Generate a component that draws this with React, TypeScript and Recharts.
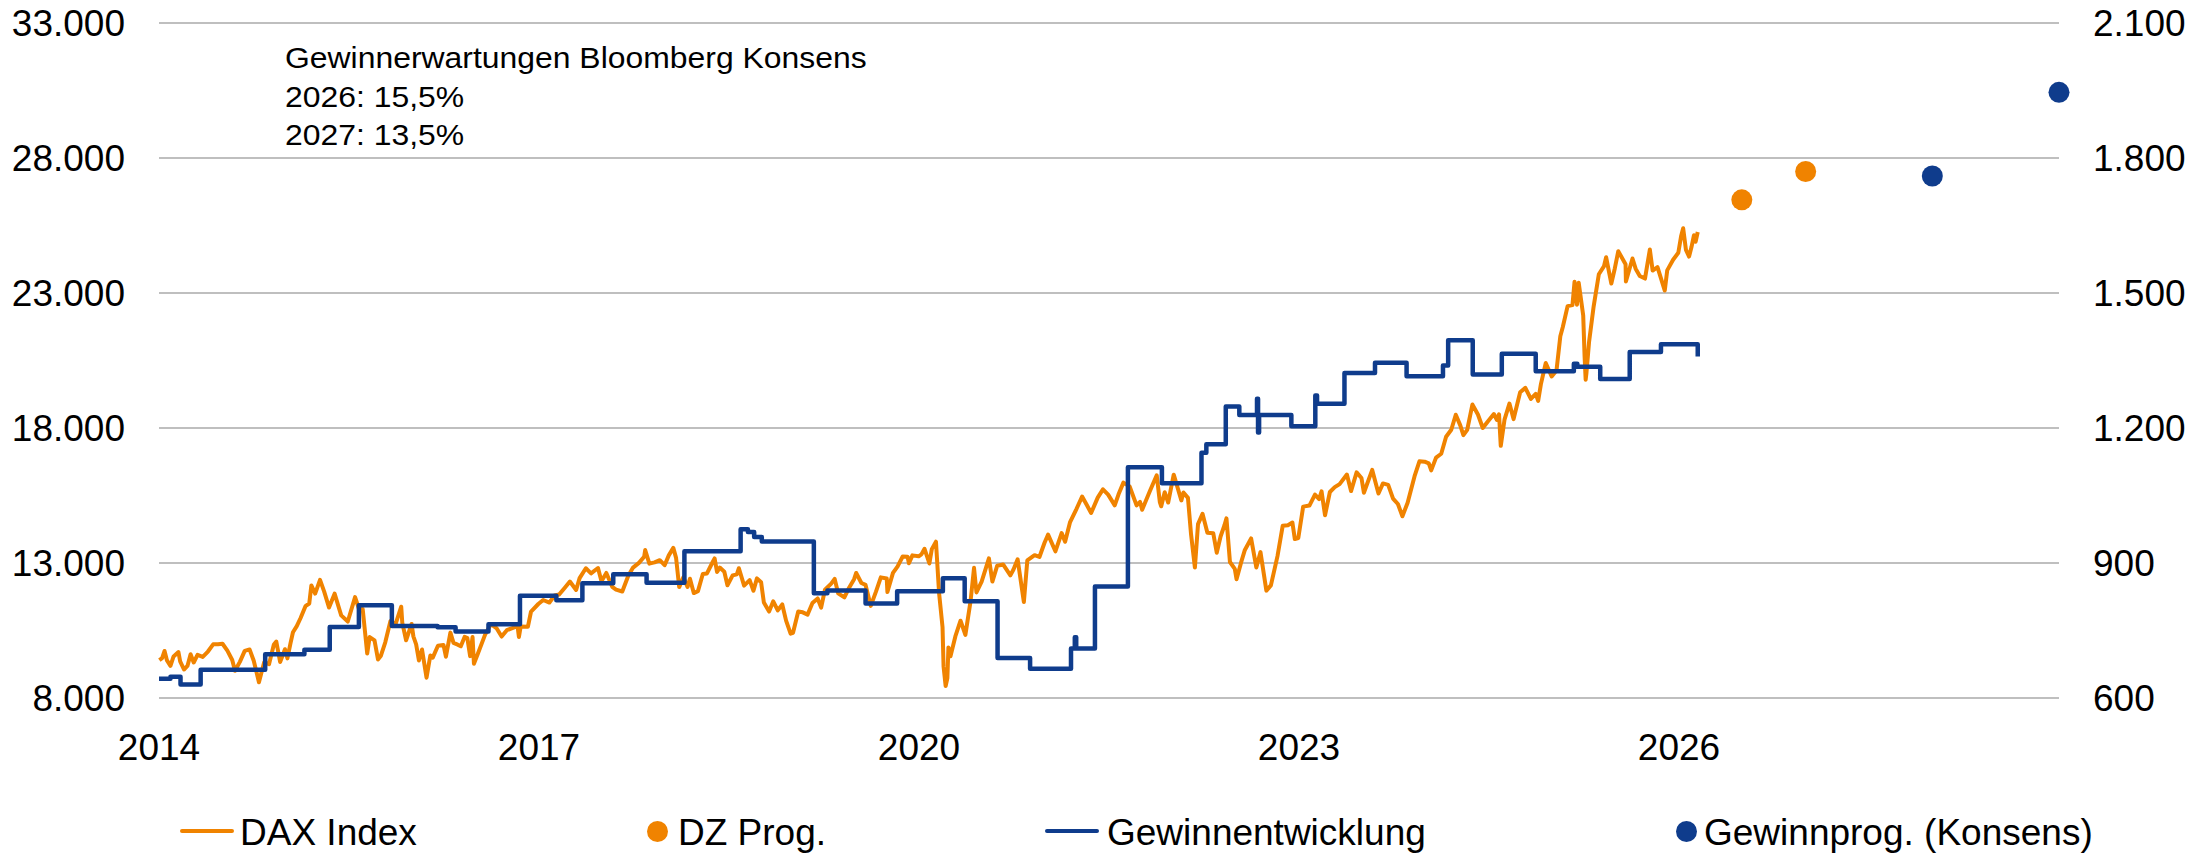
import React from 'react';
import { ComposedChart, Line, Scatter, XAxis, YAxis, CartesianGrid, Legend } from 'recharts';

const ORANGE = '#F08300';
const BLUE = '#0F3C8C';

// DAX Index, ausgewählte Schlusskurse je Jahr: [MM-DD, Punkte]
const dax2014: [string, number][] = [
  ['01-02', 9400], ['01-10', 9473], ['01-17', 9742], ['01-24', 9392], ['02-03', 9190], ['02-12', 9540],
  ['02-26', 9700], ['03-03', 9358], ['03-14', 9056], ['03-24', 9188], ['04-02', 9623], ['04-11', 9315],
  ['04-22', 9600], ['05-07', 9521], ['05-22', 9721], ['06-06', 9987], ['06-20', 9987], ['07-03', 10009],
  ['07-17', 9753], ['07-31', 9407], ['08-08', 9009], ['08-22', 9339], ['09-05', 9747], ['09-19', 9799],
  ['10-01', 9382], ['10-16', 8582], ['10-31', 9326], ['11-14', 9252], ['11-28', 9980], ['12-05', 10087],
  ['12-16', 9334], ['12-30', 9806],
];
const dax2015: [string, number][] = [
  ['01-06', 9469], ['01-15', 10032], ['01-22', 10435], ['02-02', 10662], ['02-13', 10963], ['02-27', 11402],
  ['03-10', 11500], ['03-16', 12168], ['03-27', 11868], ['04-10', 12375], ['04-22', 11939], ['05-06', 11350],
  ['05-22', 11865], ['06-10', 11060], ['06-29', 10832], ['07-20', 11735], ['07-31', 11309], ['08-11', 11293],
  ['08-24', 9648], ['08-31', 10259], ['09-14', 10131], ['09-24', 9428], ['10-02', 9553], ['10-15', 10064],
  ['10-30', 10850], ['11-13', 10708], ['11-30', 11382], ['12-03', 10789], ['12-14', 10139], ['12-30', 10743],
];
const dax2016: [string, number][] = [
  ['01-04', 10283], ['01-12', 9985], ['01-20', 9392], ['01-29', 9798], ['02-11', 8753], ['02-22', 9573],
  ['02-29', 9495], ['03-15', 9933], ['03-31', 9966], ['04-07', 9530], ['04-20', 10421], ['04-29', 10039],
  ['05-11', 9975], ['05-20', 9916], ['05-31', 10263], ['06-08', 10217], ['06-16', 9551], ['06-23', 10257],
  ['06-27', 9269], ['07-08', 9630], ['07-29', 10337], ['08-15', 10740], ['08-31', 10592], ['09-15', 10276],
  ['09-30', 10511], ['10-14', 10580], ['10-31', 10665], ['11-04', 10259], ['11-09', 10646], ['11-30', 10640],
  ['12-09', 11203], ['12-30', 11481],
];
const dax2017: [string, number][] = [
  ['01-13', 11630], ['01-31', 11535], ['02-15', 11794], ['02-28', 11834], ['03-17', 12095], ['03-31', 12313],
  ['04-18', 12000], ['04-28', 12438], ['05-16', 12804], ['05-31', 12615], ['06-20', 12814], ['06-30', 12325],
  ['07-14', 12631], ['07-31', 12118], ['08-11', 12014], ['08-29', 11946], ['09-15', 12519], ['09-29', 12829],
  ['10-16', 13003], ['10-31', 13230], ['11-03', 13479], ['11-15', 12977], ['11-30', 13024], ['12-15', 13103],
  ['12-29', 12918],
];
const dax2018: [string, number][] = [
  ['01-10', 13282], ['01-23', 13559], ['01-31', 13189], ['02-09', 12107], ['02-21', 12471], ['03-05', 12114],
  ['03-12', 12418], ['03-23', 11886], ['04-04', 11957], ['04-18', 12590], ['04-30', 12612], ['05-15', 13000],
  ['05-22', 13169], ['05-29', 12666], ['06-06', 12830], ['06-19', 12678], ['06-28', 12177], ['07-13', 12540],
  ['07-25', 12578], ['07-31', 12805], ['08-15', 12163], ['08-31', 12364], ['09-11', 11970], ['09-21', 12431],
  ['10-03', 12287], ['10-11', 11539], ['10-26', 11201], ['11-07', 11579], ['11-20', 11244], ['12-03', 11465],
  ['12-14', 10866], ['12-27', 10382],
];
const dax2019: [string, number][] = [
  ['01-03', 10416], ['01-18', 11205], ['01-31', 11173], ['02-14', 11090], ['02-28', 11516], ['03-15', 11686],
  ['03-25', 11346], ['04-05', 12010], ['04-23', 12235], ['05-03', 12412], ['05-13', 11877], ['05-31', 11727],
  ['06-14', 12096], ['06-28', 12399], ['07-04', 12630], ['07-19', 12260], ['07-31', 12189], ['08-15', 11412],
  ['08-30', 11939], ['09-13', 12468], ['09-30', 12428], ['10-02', 11925], ['10-18', 12633], ['10-31', 12867],
  ['11-15', 13241], ['11-29', 13236], ['12-03', 12989], ['12-13', 13283], ['12-31', 13249],
];
const dax2020: [string, number][] = [
  ['01-08', 13320], ['01-17', 13526], ['01-31', 12982], ['02-07', 13514], ['02-19', 13789], ['02-28', 11890],
  ['03-09', 10625], ['03-12', 9161], ['03-18', 8441], ['03-23', 8742], ['03-26', 9874], ['04-01', 9544],
  ['04-15', 10280], ['04-30', 10862], ['05-14', 10337], ['05-29', 11587], ['06-08', 12820], ['06-15', 11911],
  ['06-30', 12311], ['07-21', 13171], ['07-31', 12313], ['08-14', 12901], ['08-31', 12945], ['09-21', 12542],
  ['09-30', 12761], ['10-12', 13138], ['10-30', 11556], ['11-09', 13095], ['11-30', 13291], ['12-14', 13223],
  ['12-29', 13761],
];
const dax2021: [string, number][] = [
  ['01-08', 14050], ['01-29', 13433], ['02-16', 14109], ['02-26', 13786], ['03-12', 14502], ['03-31', 15008],
  ['04-16', 15460], ['04-30', 15136], ['05-12', 14851], ['05-31', 15421], ['06-15', 15729], ['06-30', 15531],
  ['07-19', 15133], ['07-30', 15544], ['08-13', 15977], ['08-31', 15835], ['09-20', 15132], ['09-30', 15261],
  ['10-06', 14973], ['10-29', 15688], ['11-17', 16248], ['11-26', 15257], ['11-30', 15100], ['12-10', 15623],
  ['12-20', 15239], ['12-30', 15885],
];
const dax2022: [string, number][] = [
  ['01-05', 16271], ['01-14', 15883], ['01-27', 15318], ['02-02', 15613], ['02-15', 15412], ['02-24', 14052],
  ['03-07', 12832], ['03-16', 14440], ['03-29', 14820], ['04-12', 14124], ['04-29', 14098], ['05-09', 13380],
  ['05-20', 13982], ['05-31', 14388], ['06-06', 14653], ['06-16', 13038], ['06-30', 12784], ['07-05', 12401],
  ['07-18', 13012], ['07-29', 13484], ['08-16', 13910], ['08-31', 12835], ['09-12', 13402], ['09-29', 11976],
  ['10-12', 12172], ['10-31', 13253], ['11-15', 14378], ['11-30', 14397], ['12-13', 14497], ['12-20', 13885],
  ['12-30', 13924],
];
const dax2023: [string, number][] = [
  ['01-13', 15087], ['01-31', 15128], ['02-16', 15533], ['02-28', 15365], ['03-07', 15654], ['03-17', 14768],
  ['03-31', 15629], ['04-14', 15808], ['04-28', 15922], ['05-19', 16275], ['05-31', 15664], ['06-16', 16358],
  ['06-30', 16148], ['07-07', 15603], ['07-31', 16447], ['08-18', 15574], ['08-31', 15947], ['09-15', 15894],
  ['09-29', 15387], ['10-13', 15186], ['10-26', 14731], ['11-10', 15234], ['11-30', 16215], ['12-14', 16766],
  ['12-29', 16752],
];
const dax2024: [string, number][] = [
  ['01-10', 16689], ['01-17', 16432], ['01-31', 16904], ['02-15', 17046], ['02-29', 17678], ['03-15', 17937],
  ['03-28', 18492], ['04-10', 18097], ['04-19', 17737], ['04-30', 17932], ['05-15', 18869], ['05-31', 18498],
  ['06-14', 18002], ['06-28', 18235], ['07-16', 18518], ['07-25', 18298], ['07-31', 18508], ['08-05', 17339],
  ['08-16', 18322], ['08-30', 18906], ['09-11', 18330], ['09-30', 19325], ['10-15', 19486], ['10-31', 19078],
  ['11-14', 19263], ['11-21', 19004], ['11-29', 19626], ['12-13', 20405], ['12-30', 19909],
];
const dax2025: [string, number][] = [
  ['01-13', 20132], ['01-24', 21395], ['01-31', 21732], ['02-14', 22513], ['02-28', 22551], ['03-06', 23419],
  ['03-13', 22567], ['03-18', 23380], ['03-31', 22163], ['04-04', 20642], ['04-07', 19790], ['04-09', 20000],
  ['04-17', 21206], ['04-30', 22497], ['05-15', 23695], ['05-30', 23997], ['06-05', 24324], ['06-20', 23350],
  ['06-30', 23910], ['07-10', 24549], ['07-31', 24065], ['08-01', 23426], ['08-20', 24277], ['08-29', 23902],
  ['09-10', 23630], ['09-25', 23534], ['10-09', 24611], ['10-17', 23830], ['10-31', 23958], ['11-21', 23091],
  ['11-28', 23837], ['12-15', 24230], ['12-30', 24490],
];
const dax2026: [string, number][] = [
  ['01-07', 25100], ['01-13', 25400], ['01-21', 24600], ['01-30', 24350], ['02-06', 24700], ['02-13', 25137],
  ['02-18', 24900], ['02-24', 25260],
];

const daxByYear: [number, [string, number][]][] = [
  [2014, dax2014], [2015, dax2015], [2016, dax2016], [2017, dax2017], [2018, dax2018], [2019, dax2019],
  [2020, dax2020], [2021, dax2021], [2022, dax2022], [2023, dax2023], [2024, dax2024], [2025, dax2025],
  [2026, dax2026],
];

// Gewinnentwicklung (rechte Achse), Stufen: [Datum, Wert]
const gewinnSteps: [string, number][] = [
  ['2014-01-01', 643], ['2014-02-03', 647], ['2014-03-04', 630], ['2014-05-01', 663], ['2014-11-03', 697],
  ['2015-02-24', 707], ['2015-05-08', 758], ['2015-07-31', 806], ['2015-11-03', 760], ['2016-03-14', 757],
  ['2016-05-05', 748], ['2016-08-08', 764], ['2016-11-07', 827], ['2017-02-20', 817], ['2017-05-06', 855],
  ['2017-08-03', 875], ['2017-11-07', 856], ['2018-02-24', 926], ['2018-08-05', 975], ['2018-08-26', 969],
  ['2018-09-13', 958], ['2018-10-05', 948], ['2019-03-04', 833], ['2019-04-12', 839], ['2019-07-31', 810],
  ['2019-10-30', 837], ['2020-03-10', 866], ['2020-05-12', 815], ['2020-08-15', 689], ['2020-11-17', 665],
  ['2021-03-15', 710], ['2021-03-26', 735], ['2021-03-30', 710], ['2021-05-23', 848], ['2021-08-26', 1113],
  ['2021-12-02', 1077], ['2022-03-26', 1145], ['2022-04-09', 1164], ['2022-06-04', 1248], ['2022-07-13', 1229],
  ['2022-09-02', 1265], ['2022-09-05', 1190], ['2022-09-08', 1229], ['2022-12-10', 1204], ['2023-02-17', 1272],
  ['2023-02-22', 1254], ['2023-05-12', 1322], ['2023-08-08', 1345], ['2023-11-07', 1315], ['2024-02-20', 1339],
  ['2024-03-06', 1395], ['2024-05-16', 1319], ['2024-08-08', 1365], ['2024-11-14', 1326], ['2025-03-04', 1343],
  ['2025-03-14', 1336], ['2025-05-19', 1309], ['2025-08-12', 1369], ['2025-11-10', 1386], ['2026-02-24', 1359],
];

const dzProgDates = ['2026-07-01', '2027-01-01'];
const dzProgValues = [26450, 27500];
const konsensDates = ['2028-01-01', '2029-01-01'];
const konsensValues = [1760, 1946];

const leftTicks = [8000, 13000, 18000, 23000, 28000, 33000];
const rightTicks = [600, 900, 1200, 1500, 1800, 2100];
const yearTicks = [2014, 2017, 2020, 2023, 2026];

const noteLines = ['Gewinnerwartungen Bloomberg Konsens', '2026: 15,5%', '2027: 13,5%'];

const toYear = (d: string) => {
  const [y, m, day] = d.split('-').map(Number);
  const start = Date.UTC(y, 0, 1);
  return y + (Date.UTC(y, m - 1, day) - start) / (Date.UTC(y + 1, 0, 1) - start);
};

const daxData = daxByYear.flatMap(([year, rows]) => rows.map(([md, v]) => ({ t: toYear(`${year}-${md}`), v })));
const gewinnData = gewinnSteps.map(([d, v]) => ({ t: toYear(d), v }));
const dzData = dzProgDates.map((d, i) => ({ t: toYear(d), v: dzProgValues[i] }));
const konsensData = konsensDates.map((d, i) => ({ t: toYear(d), v: konsensValues[i] }));

const fmt = (v: number) => String(v).replace(/\B(?=(\d{3})+(?!\d))/g, '.');

const tickStyle = { fontSize: 37, fill: '#000' };

const Dot = (color: string) => (p: any) => <circle cx={p.cx} cy={p.cy} r={10.5} fill={color} />;

const legendItems = [
  { label: 'DAX Index', kind: 'line', color: ORANGE, mark: 180, text: 240 },
  { label: 'DZ Prog.', kind: 'dot', color: ORANGE, mark: 647, text: 678 },
  { label: 'Gewinnentwicklung', kind: 'line', color: BLUE, mark: 1045, text: 1107 },
  { label: 'Gewinnprog. (Konsens)', kind: 'dot', color: BLUE, mark: 1676, text: 1704 },
];

const LegendBox = () => (
  <div style={{ position: 'relative', width: 2209, height: 70 }}>
    {legendItems.map((it) => (
      <React.Fragment key={it.label}>
        {it.kind === 'line' ? (
          <div style={{ position: 'absolute', left: it.mark, top: 46, width: 54, height: 4, borderRadius: 2, background: it.color }} />
        ) : (
          <div style={{ position: 'absolute', left: it.mark, top: 37.5, width: 21, height: 21, borderRadius: '50%', background: it.color }} />
        )}
        <span style={{ position: 'absolute', left: it.text, top: 30.5, fontSize: 37, lineHeight: '37px', color: '#000', whiteSpace: 'nowrap' }}>
          {it.label}
        </span>
      </React.Fragment>
    ))}
  </div>
);

export default function App() {
  return (
    <div
      style={{
        position: 'absolute', left: 0, top: 0, width: 2209, height: 853, background: '#fff',
        fontFamily: '"Liberation Sans", Arial, sans-serif',
      }}
    >
      <ComposedChart width={2209} height={853} margin={{ top: 23, right: 0, bottom: 0, left: 0 }}>
        <CartesianGrid yAxisId="left" vertical={false} stroke="#BFBFBF" strokeWidth={2} />
        <XAxis
          dataKey="t" type="number" domain={[2014, 2029]} ticks={yearTicks} interval={0}
          axisLine={false} tickLine={false} tickSize={0} tickMargin={36} height={85} tick={tickStyle}
        />
        <YAxis
          yAxisId="left" domain={[8000, 33000]} ticks={leftTicks} interval={0} width={159}
          axisLine={false} tickLine={false} tickSize={0} tickMargin={34} tick={tickStyle} tickFormatter={fmt}
        />
        <YAxis
          yAxisId="right" orientation="right" domain={[600, 2100]} ticks={rightTicks} interval={0} width={150}
          axisLine={false} tickLine={false} tickSize={0} tickMargin={34} tick={tickStyle} tickFormatter={fmt}
        />
        <Legend verticalAlign="bottom" height={70} content={() => <LegendBox />}
          wrapperStyle={{ left: 0, bottom: 0, width: 2209, height: 70 }} />
        <Line yAxisId="left" data={daxData} dataKey="v" name="DAX Index" type="linear" stroke={ORANGE}
          strokeWidth={4} strokeLinejoin="round" dot={false} activeDot={false} isAnimationActive={false} />
        <Line yAxisId="right" data={gewinnData} dataKey="v" name="Gewinnentwicklung" type="stepAfter" stroke={BLUE}
          strokeWidth={4.5} strokeLinejoin="round" dot={false} activeDot={false} isAnimationActive={false} />
        <Scatter yAxisId="left" data={dzData} dataKey="v" name="DZ Prog." fill={ORANGE}
          shape={Dot(ORANGE)} isAnimationActive={false} />
        <Scatter yAxisId="right" data={konsensData} dataKey="v" name="Gewinnprog. (Konsens)" fill={BLUE}
          shape={Dot(BLUE)} isAnimationActive={false} />
      </ComposedChart>
      <div
        style={{
          position: 'absolute', left: 285, top: 39, fontSize: 29, lineHeight: '38.7px', color: '#000',
          whiteSpace: 'nowrap', transform: 'scaleX(1.1)', transformOrigin: 'left top',
        }}
      >
        {noteLines.map((l) => (
          <div key={l}>{l}</div>
        ))}
      </div>
    </div>
  );
}
